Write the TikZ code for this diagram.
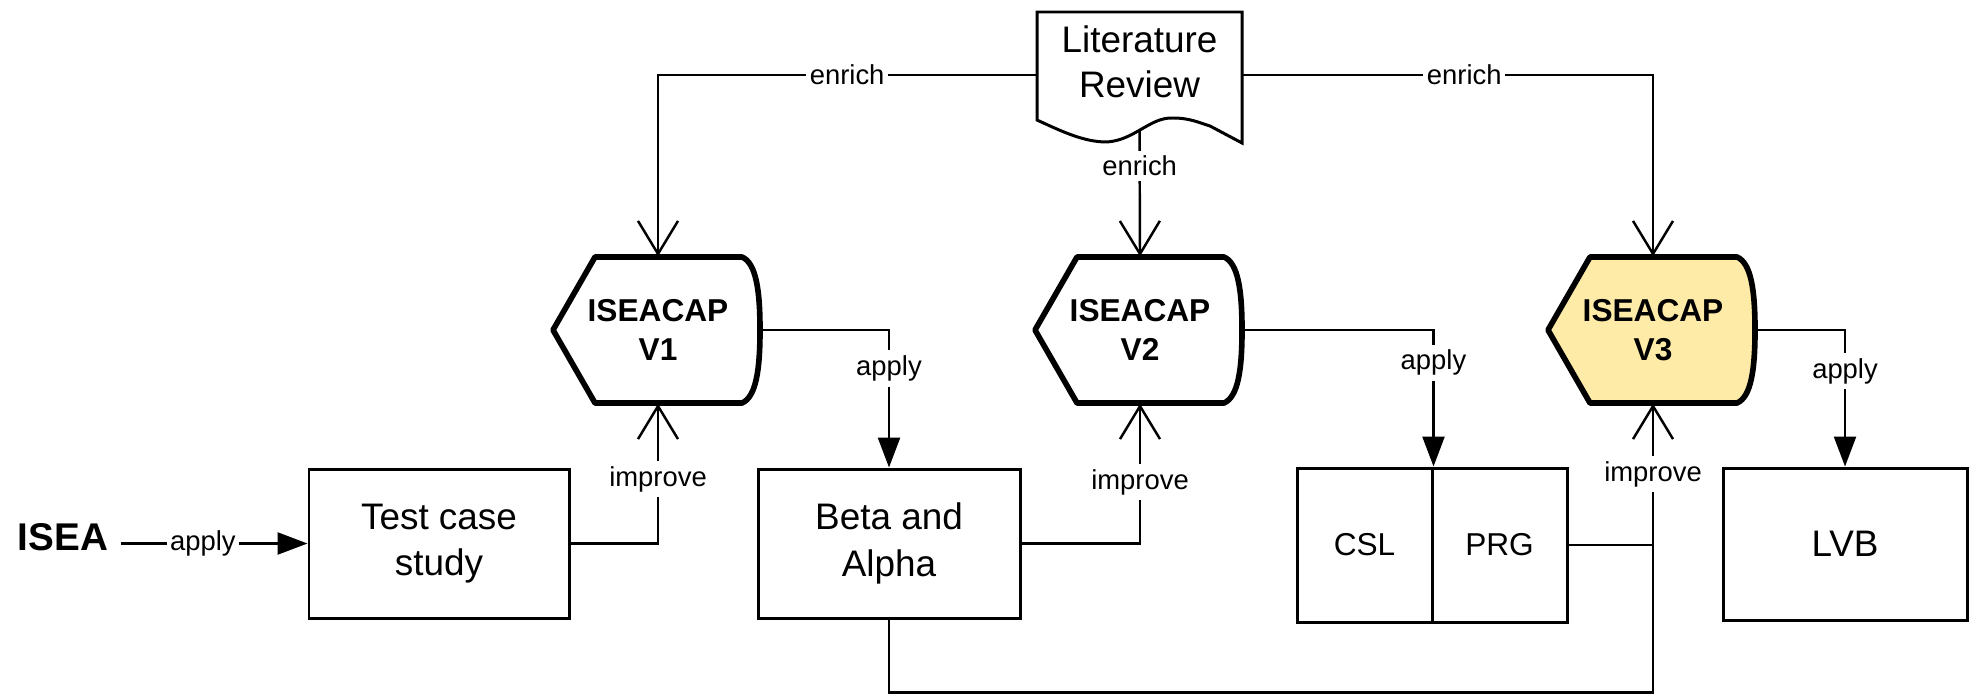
\documentclass[tikz,border=0pt]{standalone}
\usepackage{fontspec}
\setmainfont{Liberation Sans}
\usetikzlibrary{arrows.meta}

\definecolor{paleyellow}{HTML}{FDEBA7}

\tikzset{
  plainbox/.style={draw, line width=0.85pt, minimum width=2.6cm, minimum height=1.49cm, align=center, font=\fontsize{10.5}{13.2}\selectfont},
  hexbox/.style={minimum width=2.04cm, minimum height=1.46cm, align=center, font=\fontsize{9}{11}\selectfont\bfseries},
  hexline/.style={line width=1.6pt, line join=round},
  applyline/.style={line width=0.7pt, -{Triangle[length=0.3cm, width=0.22cm]}},
  openline/.style={line width=0.7pt, -{Straight Barb[length=0.33cm, width=0.4cm]}},
  tag/.style={fill=white, inner xsep=1pt, inner ysep=1.5pt, font=\fontsize{7.8}{9}\selectfont}
}

% outline of an ISEACAP box, #1 = x of its left tip
\newcommand{\displayshape}[2]{%
  \draw[hexline, fill=#2] (#1,3.65) -- ({#1+0.42},4.38) -- ({#1+1.89},4.38)
    .. controls ({#1+2.03},4.32) and ({#1+2.07},4.05) .. ({#1+2.07},3.65)
    .. controls ({#1+2.07},3.25) and ({#1+2.03},2.98) .. ({#1+1.89},2.92)
    -- ({#1+0.42},2.92) -- cycle;}

\begin{document}
\begin{tikzpicture}

\useasboundingbox (0,0) rectangle (19.75,6.95);

% literature review (document shape)
\draw[line width=0.85pt, fill=white] (10.37,6.83) -- (10.37,5.75)
  .. controls (10.65,5.62) and (10.85,5.53) .. (11.07,5.53)
  .. controls (11.35,5.55) and (11.5,5.78) .. (11.73,5.77)
  .. controls (11.9,5.77) and (12.0,5.72) .. (12.1,5.69)
  -- (12.42,5.52) -- (12.42,6.83) -- cycle;
\node[align=center, minimum width=2.05cm, minimum height=1.36cm, font=\fontsize{10.5}{12.9}\selectfont] (litrev) at (11.395,6.33) {Literature\\Review};

% the three versions
\displayshape{5.53}{white}
\displayshape{10.35}{white}
\displayshape{15.48}{paleyellow}
\node[hexbox] (v1) at (6.58,3.65) {ISEACAP\\V1};
\node[hexbox] (v2) at (11.40,3.65) {ISEACAP\\V2};
\node[hexbox] (v3) at (16.53,3.65) {ISEACAP\\V3};

% cases
\node[font=\fontsize{11}{13}\selectfont\bfseries, inner sep=0pt, anchor=west] (isea) at (0.17,1.58) {ISEA};
\node[plainbox] (test) at (4.39,1.515) {Test case\\study};
\node[plainbox, minimum width=2.62cm] (beta) at (8.89,1.515) {Beta and\\Alpha};
\node[plainbox, minimum width=1.35cm, minimum height=1.54cm, font=\fontsize{9}{11}\selectfont] (csl) at (13.645,1.50) {CSL};
\node[plainbox, minimum width=1.35cm, minimum height=1.54cm, font=\fontsize{9}{11}\selectfont] (prg) at (14.995,1.50) {PRG};
\node[plainbox, minimum width=2.44cm, minimum height=1.52cm] (lvb) at (18.45,1.51) {LVB};

% enrich
\draw[openline] ([yshift=-0.13cm]litrev.west) -| node[tag, pos=0.25]{enrich} (v1.north);
\draw[openline] ([yshift=-0.13cm]litrev.east) -| node[tag, pos=0.27]{enrich} (v3.north);
\draw[openline] (litrev.south) -- node[tag, pos=0.28]{enrich} (v2.north);

% apply
\draw[applyline] ([xshift=0.12cm]isea.east |- test.west) -- node[tag, pos=0.44]{apply} (test.west);
\draw[applyline] (v1.east) -| node[tag, pos=0.64]{apply} (beta.north);
\draw[applyline] (v2.east) -| node[tag, pos=0.62]{apply} (csl.north east);
\draw[applyline] (v3.east) -| node[tag, pos=0.65]{apply} (lvb.north);

% improve
\draw[openline] (test.east) -| node[tag, pos=0.73]{improve} (v1.south);
\draw[openline] (beta.east) -| node[tag, pos=0.72]{improve} (v2.south);
\draw[line width=0.7pt] (beta.south) -- ++(0,-0.73) -| (prg.east -| v3.south);
\draw[openline] (prg.east) -| node[tag, pos=0.75]{improve} (v3.south);

\end{tikzpicture}
\end{document}
